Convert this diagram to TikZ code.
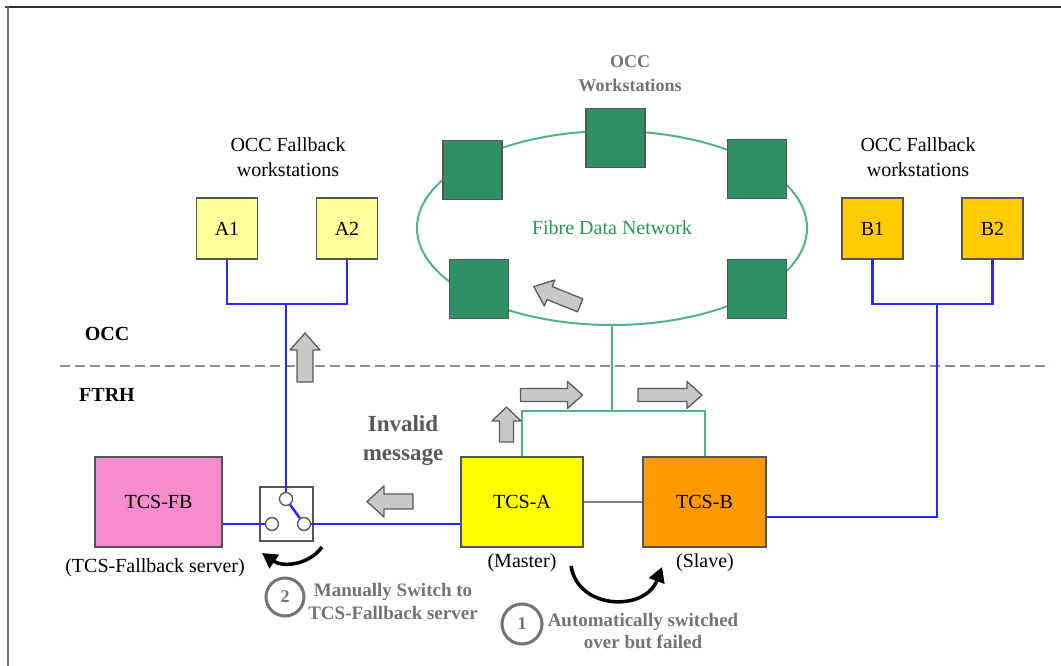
\documentclass[tikz,border=0pt]{standalone}
\usepackage{fontspec}
\setmainfont{Liberation Serif}
\usetikzlibrary{arrows.meta,shapes.geometric}
\definecolor{wsgreen}{RGB}{46,145,99}
\definecolor{fibre}{RGB}{80,180,130}
\definecolor{fibretext}{RGB}{40,150,80}
\definecolor{netblue}{RGB}{40,40,255}
\definecolor{lightyel}{RGB}{255,255,153}
\definecolor{goldbox}{RGB}{255,204,0}
\definecolor{tcsyel}{RGB}{255,255,0}
\definecolor{tcsorange}{RGB}{255,153,0}
\definecolor{tcspink}{RGB}{245,140,205}
\definecolor{boxline}{RGB}{85,85,85}
\definecolor{halo}{RGB}{115,115,115}
\definecolor{arrfill}{RGB}{200,200,200}
\definecolor{arrline}{RGB}{90,90,90}
\newcommand{\blockarr}[7]{% x, y, angle, length, headlength, halfhead, halfshaft
  \begin{scope}[shift={(#1,#2)},rotate=#3]
    \draw[line width=1.3pt, draw=arrline, fill=arrfill, line join=round]
      (-#4/2,-#7) -- (#4/2-#5,-#7) -- (#4/2-#5,-#6) -- (#4/2,0)
      -- (#4/2-#5,#6) -- (#4/2-#5,#7) -- (-#4/2,#7) -- cycle;
  \end{scope}}
\begin{document}
\begin{tikzpicture}[x=1pt,y=-1pt,
  box/.style={draw=boxline, line width=1.6pt, inner sep=0pt, font=\fontsize{20}{24}\selectfont},
  ws/.style={box, minimum width=61pt, minimum height=61pt},
  gsq/.style={draw=boxline, fill=wsgreen, line width=1.5pt, minimum size=59pt, inner sep=0pt},
  bl/.style={draw=netblue, line width=2.5pt},
  gl/.style={draw=fibre, line width=2pt},
  lbl/.style={inner sep=0pt, font=\fontsize{20}{25}\selectfont, align=center},
  bold/.style={inner sep=0pt, font=\bfseries\fontsize{20}{25}\selectfont, align=center},
  halotext/.style={inner sep=0pt, text=halo, font=\bfseries\fontsize{19}{23}\selectfont, align=center},
  numring/.style={circle, draw=halo, line width=3pt, fill=white, text=halo, inner sep=0pt, font=\bfseries\fontsize{18}{20}\selectfont},
  contact/.style={circle, draw=boxline, line width=1.3pt, fill=white, inner sep=0pt, minimum size=13pt},
  curarr/.style={draw=black, line width=3.5pt, -{Triangle[length=15pt,width=16pt]}}
]
\useasboundingbox (0,0) rectangle (1061,666);
\fill[white] (0,0) rectangle (1061,666);
% frame
\draw[line width=2pt, black!80] (5,7) -- (1061,7);
\draw[line width=1.5pt, black!55] (8,7) -- (8,666);

% zone divider
\draw[line width=2.5pt, black!45, dash pattern=on 10pt off 5pt] (60,366) -- (1050,366);
\node[bold] (occ) at (107,334) {OCC};
\node[bold] (ftrh) at (107,395) {FTRH};

% fibre ring
\node[draw=fibre, line width=2pt, ellipse, minimum width=390pt, minimum height=194pt, inner sep=0pt] (ring) at (612,228) {};
\node[lbl, text=fibretext] (fdn) at (612,228) {Fibre Data Network};
\node[gsq] (gtop) at (615.5,138) {};
\node[gsq] (gul) at (472.5,170) {};
\node[gsq] (gur) at (757,169) {};
\node[gsq] (gll) at (479,289) {};
\node[gsq] (glr) at (757,289) {};
\node[halotext, font=\bfseries\fontsize{18}{24}\selectfont] (occws) at (630,74) {OCC\\Workstations};

% fallback workstations
\node[ws, fill=lightyel] (A1) at (227,228.5) {A1};
\node[ws, fill=lightyel] (A2) at (347,228.5) {A2};
\node[ws, fill=goldbox] (B1) at (872.5,228.5) {B1};
\node[ws, fill=goldbox] (B2) at (992.5,228.5) {B2};
\node[lbl] (occfa) at (288,157) {OCC Fallback\\workstations};
\node[lbl] (occfb) at (918,157) {OCC Fallback\\workstations};

% servers
\node[box, fill=tcsyel, minimum width=122pt, minimum height=90pt] (TCSA) at (522,502) {TCS-A};
\node[box, fill=tcsorange, minimum width=123pt, minimum height=90pt] (TCSB) at (704.5,502) {TCS-B};
\node[box, fill=tcspink, minimum width=127pt, minimum height=90pt] (TCSFB) at (158.5,502) {TCS-FB};
\node[lbl] (master) at (522,563) {(Master)};
\node[lbl] (slave) at (705,563) {(Slave)};
\node[lbl] (fbsrv) at (155,568) {(TCS-Fallback server)};

% switch
\node[draw=boxline, line width=1.5pt, minimum width=53pt, minimum height=54pt, inner sep=0pt] (sw) at (286.5,514) {};
\node[contact] (ct) at (286,499) {};
\node[contact] (cl) at (272,524) {};
\node[contact] (cr) at (304,524) {};

% green links
\coordinate (gj) at (612,411);
\draw[gl] (ring.south) -- (gj);
\draw[gl] (TCSA.north) |- (gj) -| (TCSB.north);
\draw[line width=2pt, black!50] (TCSA.east) -- (TCSB.west);

% blue links
\coordinate (aj) at (286,304);
\coordinate (bj) at (937,304);
\draw[bl] (A1.south) |- (aj) -| (A2.south);
\draw[bl] (aj) -- (ct);
\draw[bl] (B1.south) |- (bj) -| (B2.south);
\draw[bl] (bj) |- ([yshift=-15pt]TCSB.east);
\draw[bl] ([yshift=-22pt]TCSFB.east) -- (cl);
\draw[bl] (cr) -- ([yshift=-22pt]TCSA.west);
\draw[bl] (ct) -- (cr);

% block arrows
\blockarr{305}{357.5}{90}{49}{17}{15}{8}
\blockarr{506.5}{424.5}{90}{35}{14}{14.5}{7}
\blockarr{551.5}{395}{0}{62}{15}{13.5}{6.5}
\blockarr{670}{395}{0}{64}{15}{13.5}{6.5}
\blockarr{390}{501.5}{180}{46}{17}{15.5}{7.5}
\blockarr{557}{296}{158}{50}{17}{14}{7}

% invalid message
\node[bold, text=black!65, font=\bfseries\fontsize{23}{29}\selectfont] (inv) at (403,441) {Invalid\\message};

% curved arrows
\draw[curarr] (322,547) .. controls (308,566) and (282,567) .. (262,553);
\draw[curarr] (571,566) .. controls (578,610) and (645,612) .. (662,567);

% numbered notes
\node[numring, minimum size=38pt] (n2) at (285,597) {2};
\node[halotext] (t2) at (393,601) {Manually Switch to\\TCS-Fallback server};
\node[numring, minimum size=40pt] (n1) at (522,624) {1};
\node[halotext, font=\bfseries\fontsize{19}{22}\selectfont] (t1) at (643,631) {Automatically switched\\over but failed};
\end{tikzpicture}
\end{document}
